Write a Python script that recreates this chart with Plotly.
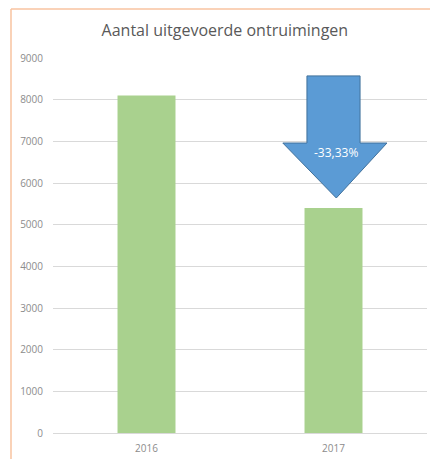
import plotly.graph_objects as go

categories = ["2016", "2017"]
values = [8100, 5400]
y_ticks = [0, 1000, 2000, 3000, 4000, 5000, 6000, 7000, 8000, 9000]
change_label = "-33,33%"

x_pos = list(range(len(categories)))

fig = go.Figure()
fig.add_trace(go.Bar(
    x=x_pos, y=values, width=0.31,
    marker=dict(color="#A9D18E", line=dict(width=0)),
    hoverinfo="skip",
))

# Arrow (down) above the 2017 bar
cx = x_pos[1]
shaft_hw, head_hw = 0.142, 0.286
y_top, y_head, y_tip = 8570, 6960, 5640
path = (f"M {cx-shaft_hw},{y_top} L {cx+shaft_hw},{y_top} L {cx+shaft_hw},{y_head} "
        f"L {cx+head_hw},{y_head} L {cx+0.015},{y_tip} L {cx-head_hw+0.015},{y_head} "
        f"L {cx-shaft_hw},{y_head} Z")
fig.add_shape(type="path", path=path, xref="x", yref="y",
              fillcolor="#5B9BD5", line=dict(color="#41719C", width=1), layer="above")
fig.add_annotation(x=cx + 0.015, y=6740, xref="x", yref="y", text=change_label,
                   showarrow=False, font=dict(color="white", size=12, family="Open Sans"))

# Orange frame lines (left and top)
fig.add_shape(type="line", xref="paper", yref="paper", x0=-0.1123, x1=-0.1123,
              y0=1.1307, y1=-0.08, line=dict(color="#F8C3A0", width=1.5))
fig.add_shape(type="line", xref="paper", yref="paper", x0=-0.1123, x1=1.01,
              y0=1.1307, y1=1.1307, line=dict(color="#F8C3A0", width=1.5))

fig.update_layout(
    width=430, height=459,
    margin=dict(l=53, r=3, t=58, b=26),
    paper_bgcolor="white", plot_bgcolor="white",
    showlegend=False,
    title=dict(text="Aantal uitgevoerde ontruimingen", x=0.523, xanchor="center",
               y=1 - 30 / 459, yanchor="middle",
               font=dict(family="Open Sans", size=16, color="#595959")),
    font=dict(family="Open Sans", color="#8C8C8C", size=10),
)
fig.update_xaxes(range=[-0.5, 1.5], tickvals=x_pos, ticktext=categories,
                 showgrid=False, zeroline=False, showline=False, ticks="",
                 ticklabelstandoff=8, tickfont=dict(size=10, color="#8C8C8C"))
fig.update_yaxes(range=[0, 9000], tickvals=y_ticks, showgrid=True, gridcolor="#D9D9D9",
                 gridwidth=1, zeroline=True, zerolinecolor="#D9D9D9", zerolinewidth=1,
                 showline=False, ticks="", ticklabelstandoff=9,
                 tickfont=dict(size=10, color="#8C8C8C"))

fig.write_html("out.html", config={"displayModeBar": False},
               post_script="document.body.style.margin='0';")
